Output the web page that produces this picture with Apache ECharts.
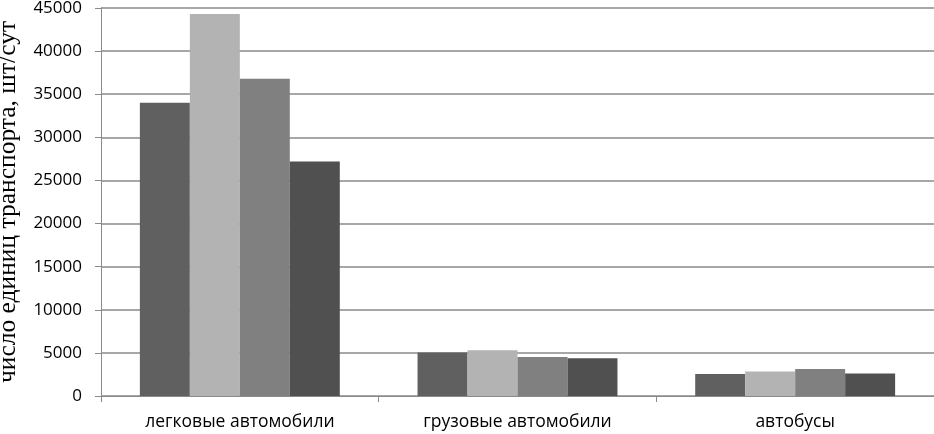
<!DOCTYPE html>
<html>
<head>
<meta charset="utf-8">
<script src="https://cdn.jsdelivr.net/npm/echarts@6/dist/echarts.min.js"></script>
<style>
  html, body { margin: 0; padding: 0; background: #fff; }
  #chart { width: 934px; height: 434px; }
</style>
</head>
<body>
<div id="chart"></div>
<script>
// категории и значения (шт/сут)
var categories = ['легковые автомобили', 'грузовые автомобили', 'автобусы']
var series1 = [34000, 5050, 2550]
var series2 = [44300, 5300, 2850]
var series3 = [36800, 4520, 3130]
var series4 = [27200, 4380, 2620]
var barColors = ['#606060', '#b3b3b3', '#808080', '#505050']

var chart = echarts.init(document.getElementById('chart'))

function makeSeries(data, i) {
  return {
    type: 'bar',
    data: data,
    barGap: '0%',
    barCategoryGap: '28%',
    itemStyle: { color: barColors[i] },
    silent: true
  }
}

chart.setOption({
  animation: false,
  grid: {
    left: 101,
    right: 0,
    top: 8,
    bottom: 38,
    containLabel: false,
    outerBoundsMode: 'none'
  },
  xAxis: {
    type: 'category',
    data: categories,
    axisLine: { lineStyle: { color: '#8a8a8a', width: 1 } },
    axisTick: { show: true, length: 6, lineStyle: { color: '#8a8a8a' } },
    axisLabel: {
      color: '#000',
      fontFamily: 'Open Sans',
      fontSize: 17.5,
      margin: 17
    }
  },
  yAxis: {
    type: 'value',
    min: 0,
    max: 45000,
    interval: 5000,
    name: 'число единиц транспорта, шт/сут',
    nameLocation: 'middle',
    nameGap: 80,
    nameTextStyle: {
      color: '#000',
      fontFamily: 'Liberation Serif',
      fontSize: 25.5
    },
    axisLine: { show: true, lineStyle: { color: '#8a8a8a', width: 1 } },
    axisTick: { show: true, length: 6, lineStyle: { color: '#8a8a8a' } },
    axisLabel: {
      color: '#000',
      fontFamily: 'Open Sans',
      fontSize: 17,
      margin: 19,
      formatter: function (v) { return String(v) }
    },
    splitLine: { lineStyle: { color: '#8a8a8a', width: 1.5 } }
  },
  series: [series1, series2, series3, series4].map(makeSeries)
})
</script>
</body>
</html>
